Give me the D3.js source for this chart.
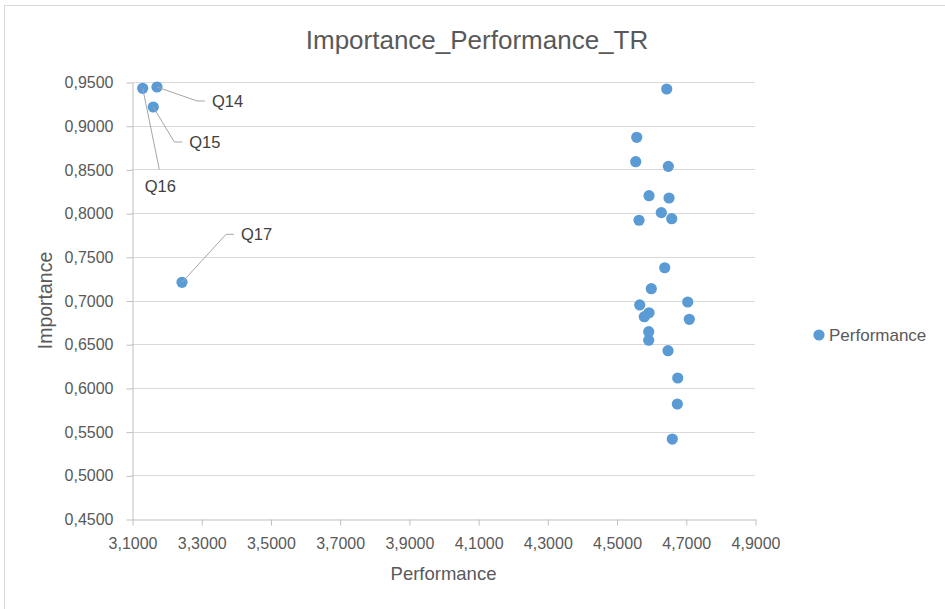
<!DOCTYPE html>
<html>
<head>
<meta charset="utf-8">
<script src="https://cdn.jsdelivr.net/npm/d3@7"></script>
<style>
  html, body { margin: 0; padding: 0; background: #ffffff; }
  svg { display: block; font-family: "Liberation Sans", Arial, sans-serif; }
</style>
</head>
<body>
<svg id="chart" width="945" height="609"></svg>
<script>
// Question scores: mean performance (x) and importance weight (y)
const questions = ["Q14", "Q15", "Q16", "Q17",
  "Q1", "Q2", "Q3", "Q4", "Q5", "Q6", "Q7", "Q8", "Q9", "Q10", "Q11",
  "Q12", "Q13", "Q18", "Q19", "Q20", "Q21", "Q22", "Q23", "Q24", "Q25", "Q26"];
const performance = [3.1722, 3.1615, 3.1309, 3.2445,
  4.6449, 4.5583, 4.5554, 4.6496, 4.5938, 4.6516, 4.6293, 4.5649, 4.6594, 4.6392, 4.6004,
  4.5669, 4.7056, 4.5938, 4.5802, 4.7102, 4.5929, 4.5929, 4.6487, 4.6767, 4.6756, 4.6611];
const importance = [0.9443, 0.9214, 0.9428, 0.7208,
  0.9420, 0.8867, 0.8588, 0.8535, 0.8199, 0.8173, 0.8005, 0.7918, 0.7936, 0.7375, 0.7135,
  0.6949, 0.6983, 0.6860, 0.6815, 0.6785, 0.6643, 0.6545, 0.6426, 0.6113, 0.5816, 0.5415];
// Only these questions carry a data label
const labelled = ["Q14", "Q15", "Q16", "Q17"];

const xTicks = [3.1, 3.3, 3.5, 3.7, 3.9, 4.1, 4.3, 4.5, 4.7, 4.9];
const yTicks = [0.45, 0.5, 0.55, 0.6, 0.65, 0.7, 0.75, 0.8, 0.85, 0.9, 0.95];

const chartTitle = "Importance_Performance_TR";
const xTitle = "Performance";
const yTitle = "Importance";
const seriesName = "Performance";

// Label placement relative to each marker (pixels): side = "right" uses an elbow leader,
// "below" runs the leader straight down to the top of the label.
const labelPlacement = {
  Q14: { dx: 55, dy: 14, side: "right" },
  Q15: { dx: 36, dy: 35, side: "right" },
  Q16: { dx: 2, dy: 98, side: "below" },
  Q17: { dx: 59, dy: -48, side: "right" }
};

const points = questions.map((q, i) => ({ q, x: performance[i], y: importance[i] }));

const svg = d3.select("#chart");
const W = 945, H = 609;
const plot = { left: 132, right: 755, top: 82, bottom: 519 };
const blue = "#5B9BD5";

const fmt = d3.formatLocale({ decimal: ",", thousands: ".", grouping: [3], currency: ["", ""] }).format(".4f");

svg.append("rect").attr("width", W).attr("height", H).attr("fill", "#fff");
// chart area frame
svg.append("rect")
  .attr("x", 4.5).attr("y", 5.5).attr("width", W + 10).attr("height", H + 10)
  .attr("fill", "none").attr("stroke", "#d9d9d9").attr("stroke-width", 1);

const x = d3.scaleLinear().domain([xTicks[0], xTicks[xTicks.length - 1]]).range([plot.left, plot.right]);
const y = d3.scaleLinear().domain([yTicks[0], yTicks[yTicks.length - 1]]).range([plot.bottom, plot.top]);

// horizontal gridlines
svg.append("g")
  .selectAll("line")
  .data(yTicks.slice(1))
  .join("line")
  .attr("x1", plot.left).attr("x2", plot.right)
  .attr("y1", d => Math.round(y(d)) + 0.5).attr("y2", d => Math.round(y(d)) + 0.5)
  .attr("stroke", "#d9d9d9").attr("stroke-width", 1);

// y axis
const yAxis = svg.append("g")
  .attr("transform", `translate(${plot.left + 0.5},0.5)`)
  .call(d3.axisLeft(y).tickValues(yTicks).tickFormat(fmt).tickSize(6).tickSizeOuter(0).tickPadding(13));
// x axis
const xAxis = svg.append("g")
  .attr("transform", `translate(0.5,${plot.bottom + 0.5})`)
  .call(d3.axisBottom(x).tickValues(xTicks).tickFormat(fmt).tickSize(6).tickSizeOuter(0).tickPadding(12));

[yAxis, xAxis].forEach(g => {
  g.select(".domain").attr("stroke", "#bfbfbf");
  g.selectAll(".tick line").attr("stroke", "#bfbfbf");
  g.selectAll(".tick text")
    .attr("fill", "#595959")
    .style("font-size", "16px")
    .style("font-family", "'Liberation Sans', Arial, sans-serif");
});

// markers
svg.append("g")
  .selectAll("circle")
  .data(points)
  .join("circle")
  .attr("cx", d => x(d.x))
  .attr("cy", d => y(d.y))
  .attr("r", 5.6)
  .attr("fill", blue);

// data labels with leader lines
const lab = svg.append("g");
points.filter(d => labelled.includes(d.q)).forEach(d => {
  const px = x(d.x), py = y(d.y);
  const p = labelPlacement[d.q];
  const lx = px + p.dx, ly = py + p.dy;
  const t = lab.append("text")
    .attr("x", lx).attr("y", ly)
    .attr("dy", "0.36em")
    .attr("fill", "#404040")
    .style("font-size", "16.5px")
    .text(d.q);
  const w = t.node().getComputedTextLength();
  let path;
  if (p.side === "right") {
    path = d3.path();
    path.moveTo(px, py);
    path.lineTo(lx - 15, ly);
    path.lineTo(lx - 7, ly);
  } else {
    path = d3.path();
    path.moveTo(px, py);
    path.lineTo(lx + w / 2 - 1, ly - 17);
  }
  lab.append("path")
    .attr("d", path.toString())
    .attr("fill", "none")
    .attr("stroke", "#a6a6a6")
    .attr("stroke-width", 1);
});

// titles
svg.append("text")
  .attr("x", 477).attr("y", 48.5)
  .attr("text-anchor", "middle")
  .attr("fill", "#595959")
  .style("font-size", "26px")
  .text(chartTitle);

svg.append("text")
  .attr("x", (plot.left + plot.right) / 2).attr("y", 580)
  .attr("text-anchor", "middle")
  .attr("fill", "#595959")
  .style("font-size", "18.5px")
  .text(xTitle);

svg.append("text")
  .attr("transform", `translate(52,${(plot.top + plot.bottom) / 2}) rotate(-90)`)
  .attr("text-anchor", "middle")
  .attr("fill", "#595959")
  .style("font-size", "19.5px")
  .text(yTitle);

// legend
const legend = svg.append("g").attr("transform", "translate(819,335)");
legend.append("circle").attr("r", 5.6).attr("fill", blue);
legend.append("text")
  .attr("x", 10).attr("dy", "0.36em")
  .attr("fill", "#595959")
  .style("font-size", "17px")
  .text(seriesName);
</script>
</body>
</html>
